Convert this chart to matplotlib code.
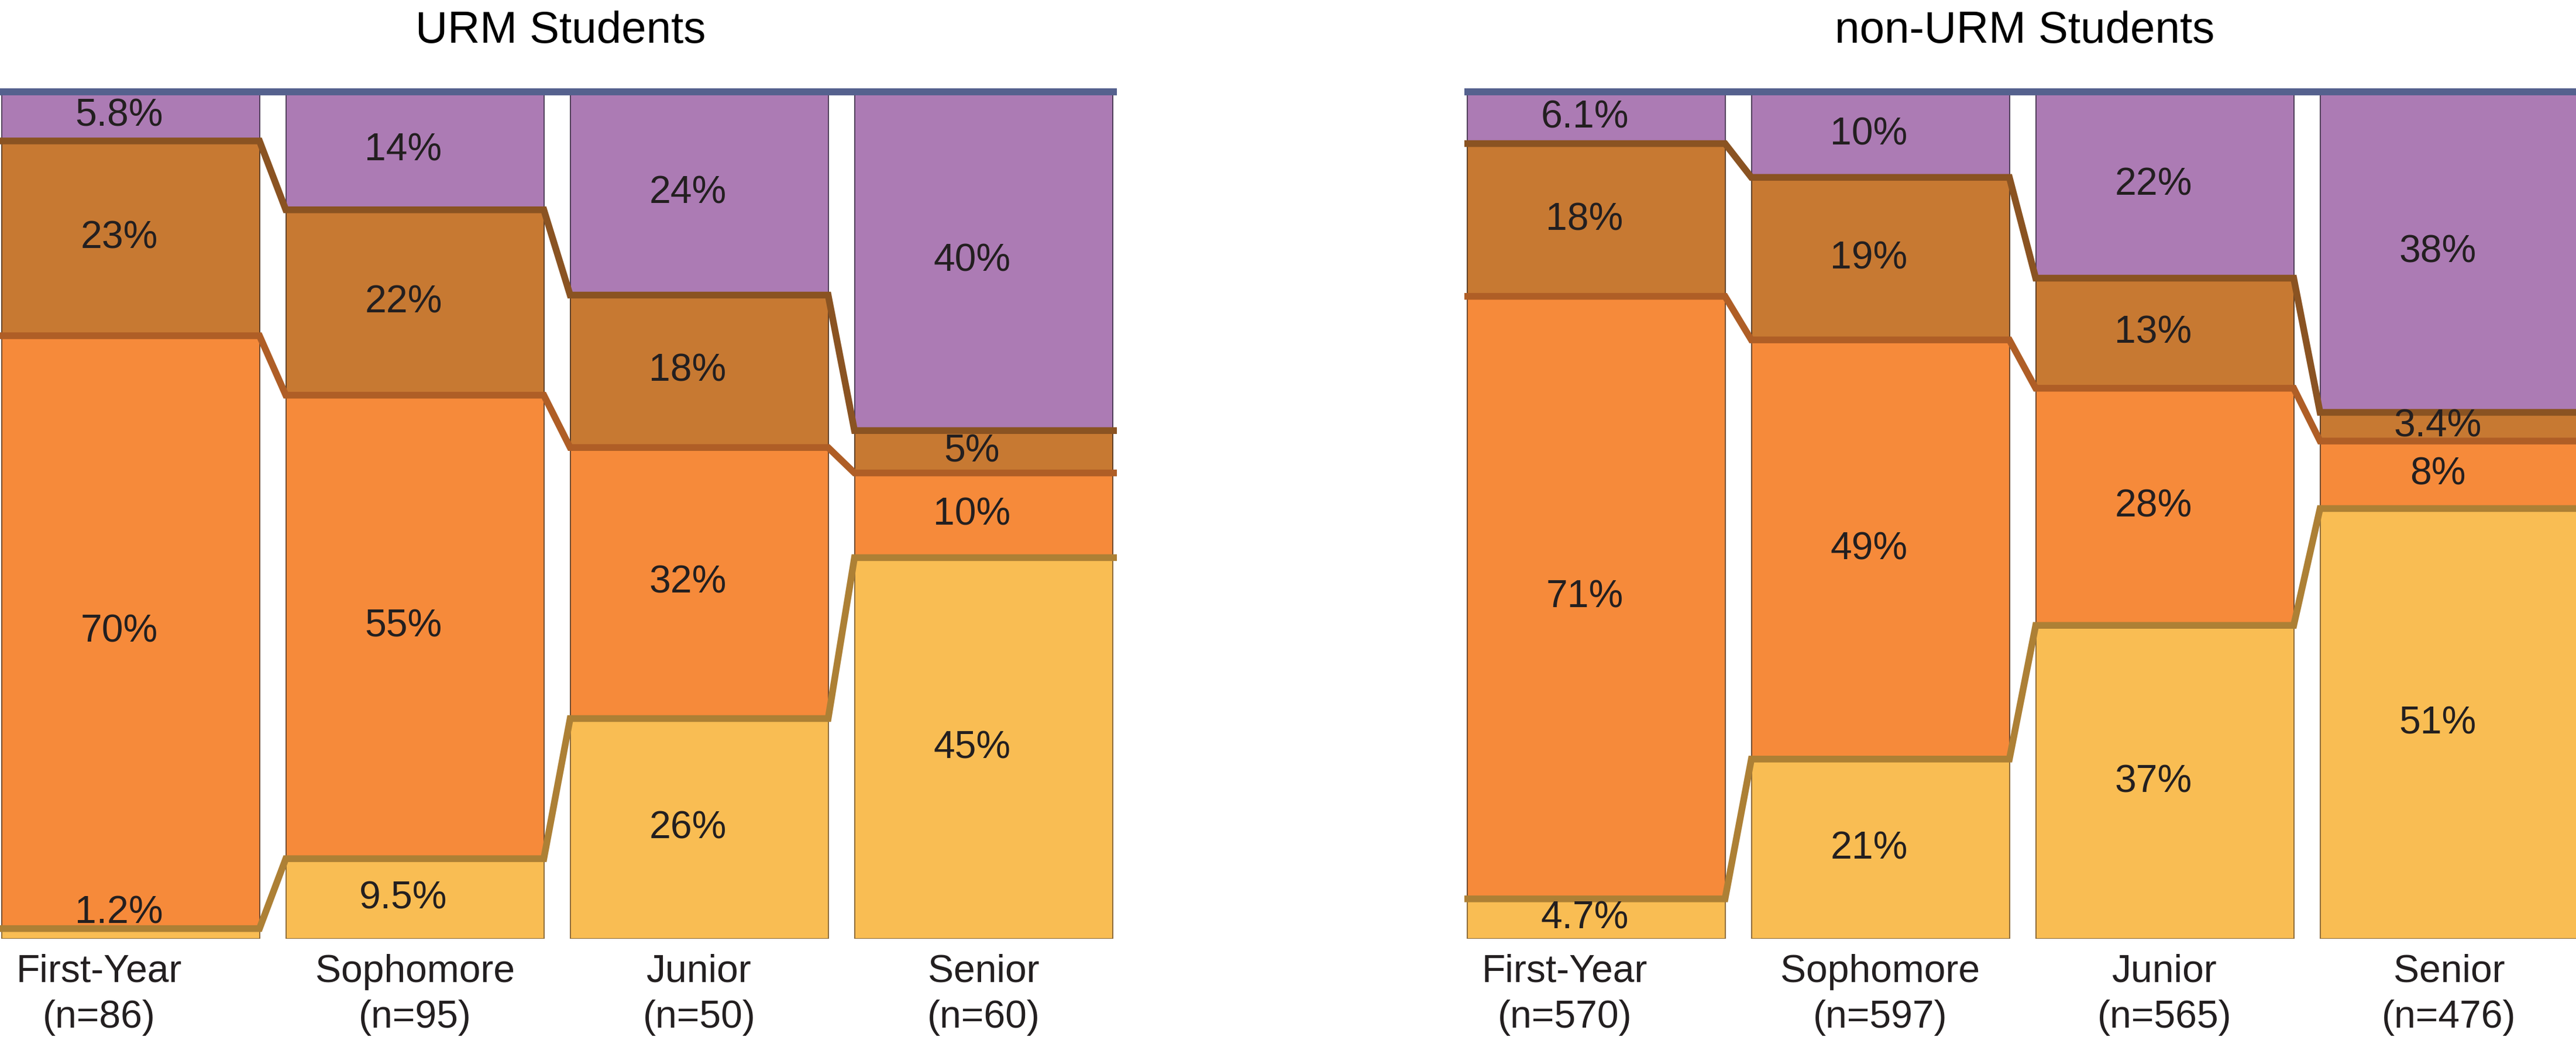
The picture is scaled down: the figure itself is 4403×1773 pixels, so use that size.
import numpy as np
import matplotlib.pyplot as plt

plt.rcParams['font.family'] = ['Liberation Sans', 'DejaVu Sans']

# data (percent of students per year)
categories = ['First-Year', 'Sophomore', 'Junior', 'Senior']
titles = ['URM Students', 'non-URM Students']

urm_n = [86, 95, 50, 60]
urm_yellow = [1.2, 9.5, 26, 45]
urm_orange = [70, 55, 32, 10]
urm_dark = [23, 22, 18, 5]
urm_purple = [5.8, 14, 24, 40]

non_n = [570, 597, 565, 476]
non_yellow = [4.7, 21, 37, 51]
non_orange = [71, 49, 28, 8]
non_dark = [18, 19, 13, 3.4]
non_purple = [6.1, 10, 22, 38]

fills = ['#F9BD53', '#F68A3A', '#C77932', '#AC7BB4']
edges = ['#8C6A3A', '#6E4A30', '#5E4028', '#4E3E58']
line_cols = ['#AD8035', '#AF5E26', '#8A5322']
top_col = '#55618E'
txt_col = '#231F20'

# layout in pixels of the 4403x1773 output
W, H = 4403, 1773
y_top, y_bot = 157, 1605
pitch = 486.0
bar_w = 441 / pitch
panels = [(0, 1909, 223), (2503, 4403, 2728)]  # axes left, axes right, first bar centre

fig = plt.figure(figsize=(W / 100, H / 100), dpi=100)

groups = [(urm_n, [urm_yellow, urm_orange, urm_dark, urm_purple]),
          (non_n, [non_yellow, non_orange, non_dark, non_purple])]

for p, ((left, right, c0), (ns, segs)) in enumerate(zip(panels, groups)):
    ax = fig.add_axes([left / W, (H - y_bot) / H, (right - left) / W, (y_bot - y_top) / H])
    x0 = (left - c0) / pitch
    x1 = (right - c0) / pitch
    ax.set_xlim(x0, x1)
    ax.set_ylim(0, 100)
    ax.axis('off')

    raw = np.array(segs, dtype=float)
    vals = raw / raw.sum(axis=0) * 100  # each bar stacked to 100
    x = np.arange(len(categories))
    bottom = np.zeros(len(categories))
    for k in range(4):
        ax.bar(x, vals[k], bar_w, bottom=bottom, color=fills[k],
               edgecolor=edges[k], linewidth=1.4, zorder=1)
        for i in range(len(categories)):
            v = vals[k][i]
            if v < 3:
                ax.text(i - 0.04, bottom[i] + v + 0.6, f'{raw[k][i]:g}%', ha='center',
                        va='baseline', fontsize=47.5, color=txt_col, zorder=5)
            else:
                ax.text(i - 0.04, bottom[i] + v / 2, f'{raw[k][i]:g}%', ha='center',
                        va='center', fontsize=47.5, color=txt_col, zorder=5)
        bottom = bottom + vals[k]

        # connecting line along the top of this segment
        if k < 3:
            c = bottom
            xs = [x0]
            ys = [c[0]]
            for i in range(len(categories)):
                xs += [i - bar_w / 2, i + bar_w / 2]
                ys += [c[i], c[i]]
            xs.append(x1)
            ys.append(c[-1])
            ax.plot(xs, ys, color=line_cols[k], lw=8.3, solid_joinstyle='miter',
                    solid_capstyle='butt', zorder=3, clip_on=False)

    ax.plot([x0, x1], [100, 100], color=top_col, lw=8.6, solid_capstyle='butt',
            zorder=4, clip_on=False)

    for i, cat in enumerate(categories):
        lx = i - 0.11 if i == 0 else i
        ax.text(lx, -0.0511, cat, transform=ax.get_xaxis_transform(), ha='center',
                va='baseline', fontsize=47.5, color=txt_col)
        ax.text(lx, -0.105, f'(n={ns[i]})', transform=ax.get_xaxis_transform(),
                ha='center', va='baseline', fontsize=47.5, color=txt_col)

    fig.text((left + 958) / W, 1 - 73 / H, titles[p], ha='center', va='baseline',
             fontsize=55, color='black')

fig.savefig('out.png', dpi=100)
